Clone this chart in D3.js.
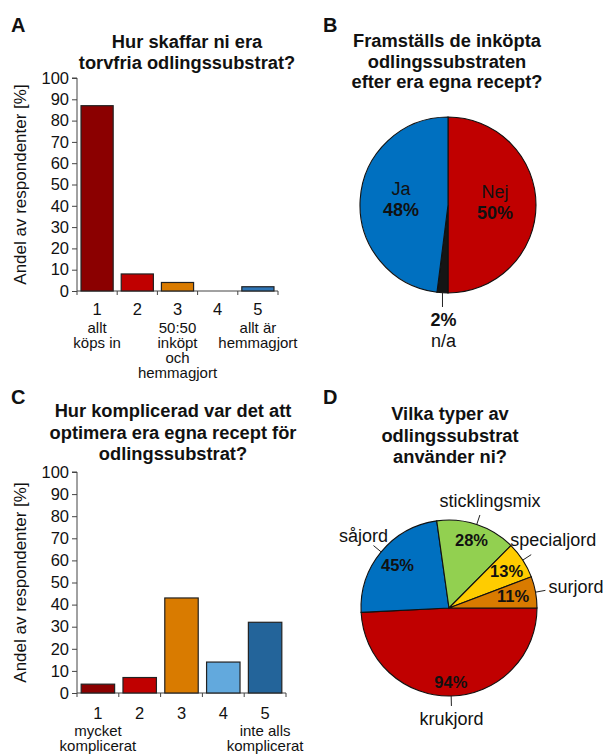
<!DOCTYPE html>
<html>
<head>
<meta charset="utf-8">
<script src="https://cdn.jsdelivr.net/npm/d3@7"></script>
<style>
  html, body { margin: 0; padding: 0; background: #fff; }
  svg { display: block; font-family: "Liberation Sans", Arial, sans-serif; }
</style>
</head>
<body>
<svg id="fig" width="606" height="754"></svg>
<script>
// Panel A: how peat-free substrates are obtained
const catsA = [1, 2, 3, 4, 5];
const valsA = [87, 8, 4, 0, 2];
const colorsA = ["#8B0000", "#C00000", "#D97B00", "#62A9DD", "#2E75B6"];
const subLabelsA = [["allt", "köps in"], [], ["50:50", "inköpt", "och", "hemmagjort"], [], ["allt är", "hemmagjort"]];

// Panel B: own recipes
const namesB = ["Nej", "n/a", "Ja"];
const valsB = [50, 2, 48];
const colorsB = ["#C00000", "#151515", "#0070C0"];

// Panel C: how complicated to optimise own recipes
const catsC = [1, 2, 3, 4, 5];
const valsC = [4, 7, 43, 14, 32];
const colorsC = ["#8B0000", "#C00000", "#D97B00", "#62A9DD", "#23649A"];
const subLabelsC = [["mycket", "komplicerat"], [], [], [], ["inte alls", "komplicerat"]];

// Panel D: substrate types used (multiple answers)
const namesD = ["krukjord", "såjord", "sticklingsmix", "specialjord", "surjord"];
const valsD = [94, 45, 28, 13, 11];
const colorsD = ["#C00000", "#0070C0", "#92D050", "#FFCC00", "#D97B00"];

const yTicks = [0, 10, 20, 30, 40, 50, 60, 70, 80, 90, 100];

const svg = d3.select("#fig");
const FONT = "Liberation Sans, Arial, sans-serif";

function panelLetter(x, y, t) {
  svg.append("text").attr("x", x).attr("y", y).attr("font-size", 20)
    .attr("font-weight", "bold").attr("fill", "#111").text(t);
}
function title(cx, y0, lh, lines) {
  const t = svg.append("text").attr("text-anchor", "middle").attr("font-size", 18.3)
    .attr("font-weight", "bold").attr("fill", "#111");
  lines.forEach((l, i) => t.append("tspan").attr("x", cx).attr("y", y0 + i * lh).text(l));
}

function barPanel(cfg) {
  const g = svg.append("g");
  const x = d3.scaleBand().domain(cfg.cats).range([cfg.x0, cfg.x1]).paddingInner(0.2).paddingOuter(0.1);
  const y = d3.scaleLinear().domain([0, 100]).range([cfg.yb, cfg.yt]);

  // y axis
  const ya = g.append("g").attr("transform", `translate(${cfg.x0},0)`)
    .call(d3.axisLeft(y).tickValues(yTicks).tickSize(5).tickPadding(3));
  ya.select(".domain").attr("stroke", "#444").attr("d", `M-5,${cfg.yt}H0V${cfg.yb}`);
  ya.selectAll(".tick line").attr("stroke", "#444");
  ya.selectAll(".tick text").attr("font-size", 16.5).attr("fill", "#111").attr("font-family", FONT);

  // x axis baseline with ticks at category boundaries
  const bounds = d3.range(cfg.cats.length + 1).map(i => cfg.x0 + i * (cfg.x1 - cfg.x0) / cfg.cats.length);
  g.append("line").attr("x1", cfg.x0).attr("x2", cfg.x1).attr("y1", cfg.yb).attr("y2", cfg.yb).attr("stroke", "#444");
  g.selectAll(".xt").data(bounds).join("line").attr("x1", d => d).attr("x2", d => d)
    .attr("y1", cfg.yb).attr("y2", cfg.yb + 4).attr("stroke", "#444");

  // bars
  g.selectAll(".bar").data(cfg.vals).join("rect")
    .attr("x", (d, i) => x(cfg.cats[i]))
    .attr("width", x.bandwidth())
    .attr("y", d => y(d))
    .attr("height", d => y(0) - y(d))
    .attr("fill", (d, i) => cfg.colors[i])
    .attr("stroke", d => d > 0 ? "#222" : "none")
    .attr("stroke-width", 1.2);

  // category numbers and descriptions
  cfg.cats.forEach((c, i) => {
    const cx = x(c) + x.bandwidth() / 2;
    g.append("text").attr("x", cx).attr("y", cfg.yb + cfg.numDy).attr("text-anchor", "middle")
      .attr("font-size", 16.5).attr("fill", "#111").text(c);
    cfg.sub[i].forEach((s, j) => g.append("text").attr("x", cx).attr("y", cfg.yb + cfg.subDy + j * cfg.lh)
      .attr("text-anchor", "middle").attr("font-size", 15).attr("fill", "#111").text(s));
  });

  // y title
  g.append("text").attr("transform", `translate(${cfg.yTitleX},${(cfg.yb + cfg.yt) / 2}) rotate(-90)`)
    .attr("text-anchor", "middle").attr("font-size", 17).attr("fill", "#111")
    .text("Andel av respondenter [%]");
}

// ---- Panel A ----
panelLetter(11, 32, "A");
title(187, 48, 20.5, ["Hur skaffar ni era", "torvfria odlingssubstrat?"]);
barPanel({cats: catsA, vals: valsA, colors: colorsA, sub: subLabelsA,
  x0: 77, x1: 278, yb: 291, yt: 78, yTitleX: 26, numDy: 24, subDy: 42, lh: 15});

// ---- Panel C ----
panelLetter(11, 404, "C");
title(173, 417, 21.5, ["Hur komplicerad var det att", "optimera era egna recept för", "odlingssubstrat?"]);
barPanel({cats: catsC, vals: valsC, colors: colorsC, sub: subLabelsC,
  x0: 77, x1: 286, yb: 693, yt: 472, yTitleX: 26, numDy: 26, subDy: 43, lh: 14.5});

// ---- Panel B ----
panelLetter(323, 32, "B");
title(447, 47, 20.5, ["Framställs de inköpta", "odlingssubstraten", "efter era egna recept?"]);
{
  const cx = 448, cy = 205, r = 88;
  const pie = d3.pie().sort(null).value(d => d)(valsB);
  const arc = d3.arc().innerRadius(0).outerRadius(r);
  const g = svg.append("g").attr("transform", `translate(${cx},${cy})`);
  g.selectAll("path").data(pie).join("path").attr("d", arc)
    .attr("fill", (d, i) => colorsB[i]).attr("stroke", "#111").attr("stroke-width", 1.1);

  const lab = d3.arc().innerRadius(r * 0.535).outerRadius(r * 0.535);
  [0, 2].forEach(i => {
    const [lx, ly] = lab.centroid(pie[i]);
    g.append("text").attr("x", lx).attr("y", ly - 7).attr("text-anchor", "middle")
      .attr("font-size", 18).attr("fill", "#111").text(namesB[i]);
    g.append("text").attr("x", lx).attr("y", ly + 14).attr("text-anchor", "middle")
      .attr("font-size", 18).attr("font-weight", "bold").attr("fill", "#111").text(valsB[i] + "%");
  });
  // small n/a slice: leader line and label below the pie
  const mid = (pie[1].startAngle + pie[1].endAngle) / 2;
  const px = r * Math.sin(mid);
  g.append("line").attr("x1", px).attr("x2", px).attr("y1", r).attr("y2", r + 14)
    .attr("stroke", "#222").attr("stroke-width", 1);
  g.append("text").attr("x", px + 1).attr("y", r + 33).attr("text-anchor", "middle")
    .attr("font-size", 18).attr("font-weight", "bold").attr("fill", "#111").text(valsB[1] + "%");
  g.append("text").attr("x", px + 1).attr("y", r + 54).attr("text-anchor", "middle")
    .attr("font-size", 18).attr("fill", "#111").text(namesB[1]);
}

// ---- Panel D ----
panelLetter(323, 404, "D");
title(450, 420, 21.5, ["Vilka typer av", "odlingssubstrat", "använder ni?"]);
{
  const cx = 449, cy = 608, r = 88;
  const pie = d3.pie().sort(null).value(d => d)
    .startAngle(Math.PI / 2).endAngle(Math.PI / 2 + 2 * Math.PI)(valsD);
  const arc = d3.arc().innerRadius(0).outerRadius(r);
  const g = svg.append("g").attr("transform", `translate(${cx},${cy})`);
  g.selectAll("path").data(pie).join("path").attr("d", arc)
    .attr("fill", (d, i) => colorsD[i]).attr("stroke", "#111").attr("stroke-width", 1.1);

  // value labels inside slices
  const inR = [0.84, 0.76, 0.81, 0.78, 0.74];
  pie.forEach((p, i) => {
    const a = d3.arc().innerRadius(r * inR[i]).outerRadius(r * inR[i]);
    const [lx, ly] = a.centroid(p);
    g.append("text").attr("x", lx).attr("y", ly + 6).attr("text-anchor", "middle")
      .attr("font-size", 16.5).attr("font-weight", "bold").attr("fill", "#111").text(valsD[i] + "%");
  });

  // name labels outside, each placed relative to the end of its leader line
  const anchors = ["middle", "middle", "middle", "middle", "start"];
  const offX = [0, -10, 10, 22, 3];
  const offY = [19, -4, -8, -9, 3];
  pie.forEach((p, i) => {
    const m = (p.startAngle + p.endAngle) / 2;
    const sx = Math.sin(m), sy = -Math.cos(m);
    const ex = sx * (r + 10), ey = sy * (r + 10);
    g.append("line").attr("x1", sx * r).attr("y1", sy * r).attr("x2", ex).attr("y2", ey)
      .attr("stroke", "#222").attr("stroke-width", 1);
    g.append("text").attr("x", ex + offX[i]).attr("y", ey + offY[i])
      .attr("text-anchor", anchors[i]).attr("font-size", 18).attr("fill", "#111").text(namesD[i]);
  });
}
</script>
</body>
</html>
